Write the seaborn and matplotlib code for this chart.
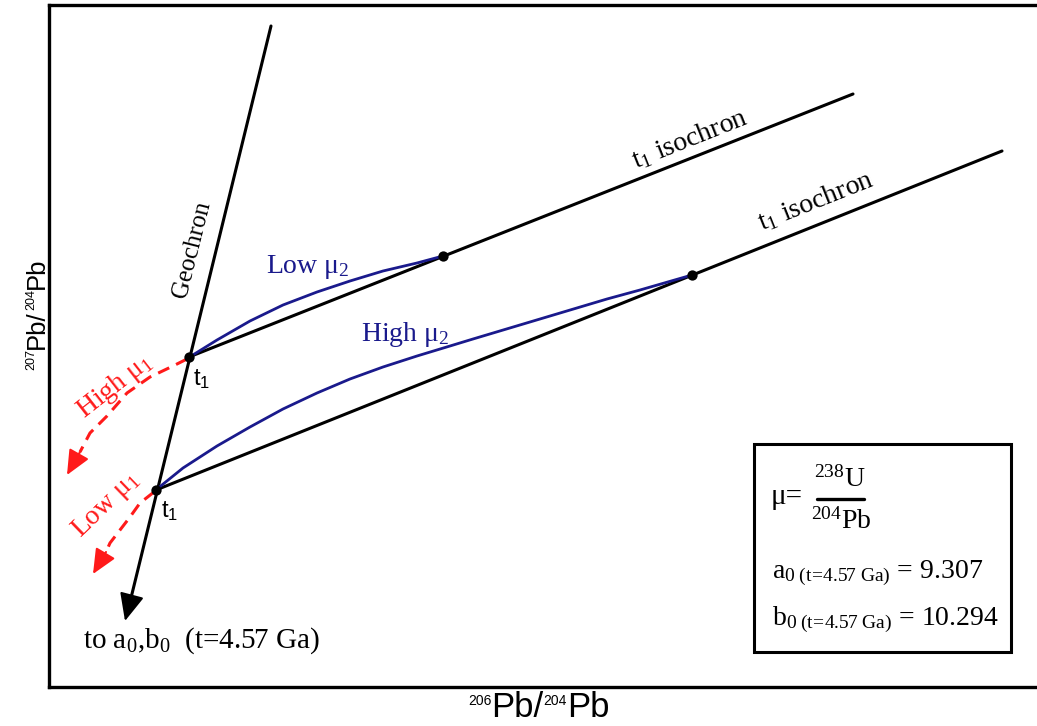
import matplotlib
matplotlib.use("Agg")
import matplotlib.pyplot as plt
import seaborn as sns
from matplotlib.patches import Rectangle

# ---------------- schematic data (pixel-like units, y grows downward)
geochron_x = [271, 130]
geochron_y = [26, 602]
geochron_tip = (125, 621)

iso_upper_x = [189, 853]
iso_upper_y = [357, 94]
iso_lower_x = [156, 1002]
iso_lower_y = [490, 151]

dots_x = [189, 156, 443, 692]
dots_y = [357, 490, 256, 275]

low_mu2_x = [188, 217, 250, 283, 317, 350, 383, 417, 443]
low_mu2_y = [358, 340, 321, 305, 292, 281, 271, 263, 256]

high_mu2_x = [157, 183, 217, 250, 283, 317, 350, 383, 417, 450, 473, 540, 607, 640, 692]
high_mu2_y = [489, 468, 446, 427, 409, 393, 379, 367, 356, 346, 339, 319, 299, 290, 275]

high_mu1_x = [187, 173, 150, 127, 107, 90, 80]
high_mu1_y = [359, 366, 377, 393, 416, 433, 452]
high_mu1_tip = (67, 475)

low_mu1_x = [154, 140, 130, 120, 110, 106]
low_mu1_y = [492, 503, 517, 530, 543, 552]
low_mu1_tip = (93, 574)

box_x0, box_y0, box_x1, box_y1 = 754, 444, 1011, 652

BLUE = "#1a1a8c"
RED = "#ff1a1a"
SERIF = "Liberation Serif"
SANS = "Liberation Sans"

sns.set_style("white")
plt.rcParams["font.family"] = [SERIF, "DejaVu Serif"]
plt.rcParams["text.color"] = "black"
plt.rcParams["mathtext.fontset"] = "custom"
plt.rcParams["mathtext.rm"] = SERIF
plt.rcParams["mathtext.it"] = SERIF + ":italic"
plt.rcParams["mathtext.bf"] = SERIF + ":bold"
plt.rcParams["mathtext.sf"] = SANS

W, H = 1037, 726
fig = plt.figure(figsize=(W / 100, H / 100), dpi=100)
ax = fig.add_axes([49 / W, (H - 687) / H, 1 - 49 / W, (687 - 5) / H])
ax.set_xlim(49, W)
ax.set_ylim(687, 5)
ax.set_xticks([])
ax.set_yticks([])
for side in ["left", "top", "bottom"]:
    ax.spines[side].set_linewidth(2.4)
    ax.spines[side].set_color("black")
ax.spines["right"].set_visible(False)

# lines
sns.lineplot(x=geochron_x, y=geochron_y, sort=False, estimator=None, color="black", lw=2.2, ax=ax, legend=False)
sns.lineplot(x=iso_upper_x, y=iso_upper_y, sort=False, estimator=None, color="black", lw=2.2, ax=ax, legend=False)
sns.lineplot(x=iso_lower_x, y=iso_lower_y, sort=False, estimator=None, color="black", lw=2.2, ax=ax, legend=False)
sns.lineplot(x=low_mu2_x, y=low_mu2_y, sort=False, estimator=None, color=BLUE, lw=2.0, ax=ax, legend=False)
sns.lineplot(x=high_mu2_x, y=high_mu2_y, sort=False, estimator=None, color=BLUE, lw=2.0, ax=ax, legend=False)
for xs, ys in [(high_mu1_x, high_mu1_y), (low_mu1_x, low_mu1_y)]:
    sns.lineplot(x=xs, y=ys, sort=False, estimator=None, color=RED, lw=2.2, ax=ax, legend=False)
    ax.lines[-1].set_linestyle((0, (4, 2.5)))

# arrow heads
ax.annotate("", xy=geochron_tip, xytext=(geochron_x[-1], geochron_y[-1]),
            arrowprops=dict(arrowstyle="-|>,head_length=0.85,head_width=0.38", color="black",
                            lw=1.5, shrinkA=0, shrinkB=0, mutation_scale=20))
ax.annotate("", xy=high_mu1_tip, xytext=(high_mu1_x[-1], high_mu1_y[-1]),
            arrowprops=dict(arrowstyle="-|>,head_length=0.8,head_width=0.36", color=RED,
                            lw=1.5, shrinkA=0, shrinkB=0, mutation_scale=19))
ax.annotate("", xy=low_mu1_tip, xytext=(low_mu1_x[-1], low_mu1_y[-1]),
            arrowprops=dict(arrowstyle="-|>,head_length=0.8,head_width=0.36", color=RED,
                            lw=1.5, shrinkA=0, shrinkB=0, mutation_scale=19))

sns.scatterplot(x=dots_x, y=dots_y, color="black", s=55, linewidth=0, ax=ax, zorder=5, legend=False)

# texts on the diagram
ax.text(192, 250, "Geochron", rotation=76, fontsize=18, ha="center", va="center", family=SERIF)
ax.text(690, 139, "t$_1$ isochron", rotation=21.7, fontsize=20, ha="center", va="center", family=SERIF)
ax.text(816, 201, "t$_1$ isochron", rotation=21.7, fontsize=20, ha="center", va="center", family=SERIF)
ax.text(266, 273, "Low μ$_2$", fontsize=20, color=BLUE, ha="left", va="baseline", family=SERIF)
ax.text(361, 341, "High μ$_2$", fontsize=20, color=BLUE, ha="left", va="baseline", family=SERIF)
ax.text(115, 386, "High μ$_1$", rotation=38, fontsize=20, color=RED, ha="center", va="center", family=SERIF)
ax.text(106, 505, "Low μ$_1$", rotation=44, fontsize=20, color=RED, ha="center", va="center", family=SERIF)
ax.text(193, 386, r"t$_{\mathsf{1}}$", fontsize=17, ha="left", va="baseline", family=SANS)
ax.text(161, 518, r"t$_{\mathsf{1}}$", fontsize=17, ha="left", va="baseline", family=SANS)
ax.text(83, 648, "to a$_0$,b$_0$  (t=4.57 Ga)", fontsize=21, ha="left", va="baseline", family=SERIF)

# box with definitions
ax.add_patch(Rectangle((box_x0, box_y0), box_x1 - box_x0, box_y1 - box_y0, fill=False,
                       lw=2.2, edgecolor="black", zorder=4))
ax.text(771, 504, "μ=", fontsize=21, ha="left", va="baseline", family=SERIF)
ax.plot([817, 864], [499, 499], color="black", lw=2.4)
ax.text(840, 487, "$^{238}$U", fontsize=20, ha="center", va="baseline", family=SERIF)
ax.text(841, 529, "$^{204}$Pb", fontsize=20, ha="center", va="baseline", family=SERIF)
ax.text(772, 578, r"a$_{\mathrm{0\ (t\!=\!4.57\ Ga)}}$ = 9.307", fontsize=20, ha="left", va="baseline", family=SERIF)
ax.text(772, 625, r"b$_{\mathrm{0\ (t\!=\!4.57\ Ga)}}$ = 10.294", fontsize=20, ha="left", va="baseline", family=SERIF)


# axis labels built from pieces (small superscripts)
def seq_text(x, y, pieces, rotation=0):
    """x, y: figure pixel position (from top-left) of the baseline start."""
    r = fig.canvas.get_renderer()
    pos = 0.0
    for s, size, rise in pieces:
        if rotation == 0:
            px, py = x + pos, (H - y) + rise
        else:
            px, py = x - rise, (H - y) + pos
        t = fig.text(px / W, py / H, s, fontsize=size, family=SANS, rotation=rotation,
                     rotation_mode="anchor", ha="left", va="baseline", color="black")
        bb = t.get_window_extent(r)
        pos += bb.width if rotation == 0 else bb.height


seq_text(468, 717, [("206", 10, 12), ("Pb/", 25, 0), ("204", 10, 12), ("Pb", 25, 0)])
seq_text(44, 370, [("207", 9, 10), ("Pb/", 18.5, 0), ("204", 9, 10), ("Pb", 18.5, 0)], rotation=90)

fig.savefig("out.png", dpi=100)
